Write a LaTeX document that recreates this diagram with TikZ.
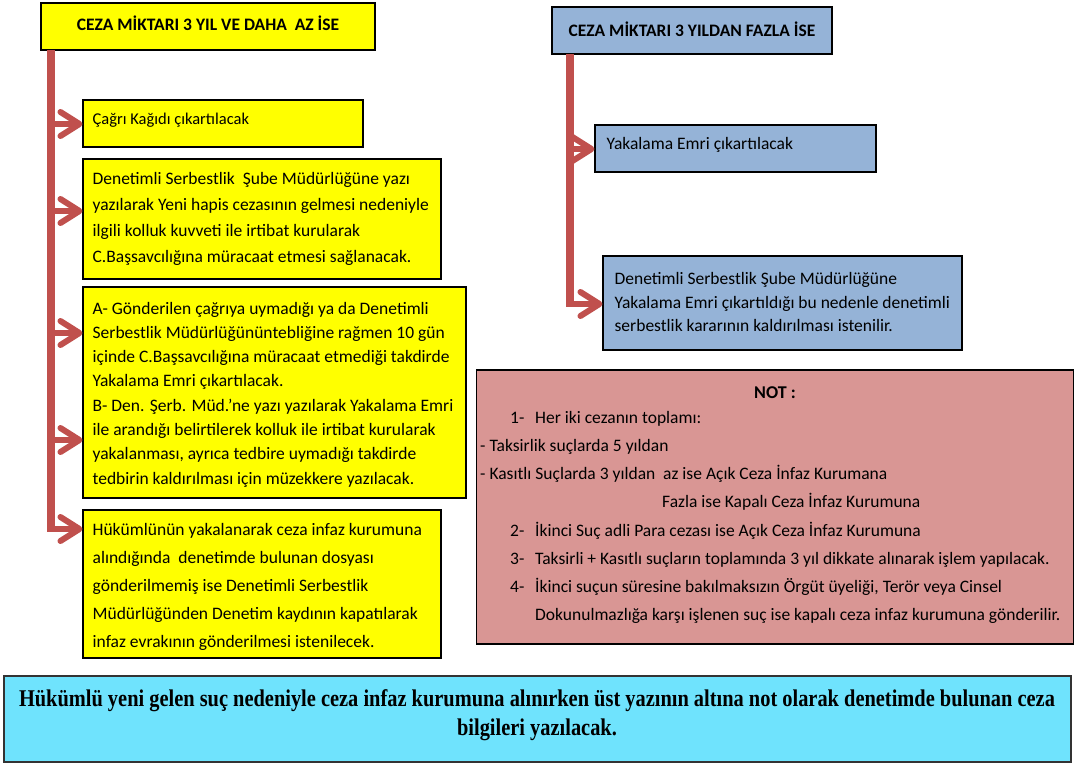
\documentclass[tikz,border=0pt]{standalone}
\usepackage{fontspec}
\setmainfont{Carlito}
\newfontfamily\tnr[FakeStretch=0.85]{Liberation Serif}
\usetikzlibrary{arrows.meta}
\definecolor{ybox}{HTML}{FFFF00}
\definecolor{bbox}{HTML}{95B3D7}
\definecolor{redline}{HTML}{C0504D}
\definecolor{notbox}{HTML}{D99694}
\definecolor{cbox}{HTML}{6FE3FD}
\begin{document}
\begin{tikzpicture}[x=1pt,y=-1pt,
  box/.style={draw=black, line width=1.1pt, inner sep=0pt, anchor=center},
  ttl/.style={box, font={\fontsize{17.5}{20}\selectfont\bfseries}},
  btxt/.style={anchor=west, align=left, inner sep=0pt},
  vbar/.style={draw=redline, line width=8pt},
  branch/.style={draw=redline, line width=6pt},
  chev/.style={draw=redline, line width=6pt, line join=round, line cap=round},
  nt/.style={anchor=base west, inner sep=0pt, font={\fontsize{17.5}{20}\selectfont}}]
\useasboundingbox (0,0) rectangle (1074,763);
% titles
\node[ttl, fill=ybox, minimum width=334pt, minimum height=47pt] (lt) at (208,26.5) {\raisebox{6pt}{CEZA MİKTARI 3 YIL VE DAHA\ \ AZ İSE}};
\node[ttl, fill=bbox, minimum width=280pt, minimum height=47pt] (rt) at (692,30.5) {\raisebox{2pt}{CEZA MİKTARI 3 YILDAN FAZLA İSE}};
% left boxes
\node[box, fill=ybox, minimum width=280pt, minimum height=47pt] (b1) at (223,123.5) {};
\node[btxt, font={\fontsize{16.5}{26}\selectfont}] (b1t) at ([xshift=10pt,yshift=3pt]b1.west) {Çağrı Kağıdı çıkartılacak};
\node[box, fill=ybox, minimum width=358pt, minimum height=120pt] (b2) at (262,219) {};
\node[btxt, font={\fontsize{17.5}{26}\selectfont}] (b2t) at ([xshift=10pt]b2.west)
 {Denetimli Serbestlik\ \ Şube Müdürlüğüne yazı\\ yazılarak Yeni hapis cezasının gelmesi nedeniyle\\ ilgili kolluk kuvveti ile irtibat kurularak\\ C.Başsavcılığına müracaat etmesi sağlanacak.};
\node[box, fill=ybox, minimum width=383pt, minimum height=211pt] (b3) at (274.5,392.5) {};
\node[btxt, font={\fontsize{17.5}{24.3}\selectfont}] (b3t) at ([xshift=10pt,yshift=-2pt]b3.west)
 {A- Gönderilen çağrıya uymadığı ya da Denetimli\\ Serbestlik Müdürlüğününtebliğine rağmen 10 gün\\ içinde C.Başsavcılığına müracaat etmediği takdirde\\ Yakalama Emri\ çıkartılacak.\\ B- Den. Şerb. Müd.'ne yazı yazılarak Yakalama Emri\\ ile arandığı belirtilerek kolluk ile irtibat kurularak\\ yakalanması, ayrıca tedbire uymadığı takdirde\\ tedbirin kaldırılması için müzekkere yazılacak.};
\node[box, fill=ybox, minimum width=358pt, minimum height=148pt] (b4) at (262,584) {};
\node[btxt, font={\fontsize{17.5}{28}\selectfont}] (b4t) at ([xshift=10pt,yshift=-3pt]b4.west)
 {Hükümlünün yakalanarak ceza infaz kurumuna\\ alındığında\ \ denetimde bulunan dosyası\\ gönderilmemiş ise Denetimli Serbestlik\\ Müdürlüğünden Denetim kaydının kapatılarak\\ infaz evrakının gönderilmesi istenilecek.};
% right boxes
\node[box, fill=bbox, minimum width=281pt, minimum height=47pt] (r1) at (735.5,148.5) {};
\node[btxt, font={\fontsize{17.5}{26}\selectfont}] (r1t) at ([xshift=12pt,yshift=4pt]r1.west) {Yakalama Emri çıkartılacak};
\node[box, fill=bbox, minimum width=359pt, minimum height=94pt] (r2) at (782.5,303) {};
\node[btxt, font={\fontsize{17.5}{23.5}\selectfont}] (r2t) at ([xshift=12pt,yshift=1pt]r2.west)
 {Denetimli Serbestlik Şube Müdürlüğüne\\ Yakalama Emri çıkartıldığı bu nedenle denetimli\\ serbestlik kararının kaldırılması istenilir.};
% left connectors
\coordinate (ltop) at (51,50);
\coordinate (lc) at (51,529);
\coordinate (a1) at (51,124);
\coordinate (a2) at (51,211);
\coordinate (a3) at (51,333);
\coordinate (a4) at (51,440);
\coordinate (e1) at ([xshift=-3pt]a1 -| b1.west);
\coordinate (e2) at ([xshift=-3pt]a2 -| b2.west);
\coordinate (e3) at ([xshift=-3pt]a3 -| b3.west);
\coordinate (e4) at ([xshift=-3pt]a4 -| b3.west);
\coordinate (e5) at ([xshift=-3pt]lc -| b4.west);
\draw[vbar] (ltop) -- ([yshift=-3pt]lc);
\foreach \s/\e in {a1/e1,a2/e2,a3/e3,a4/e4,lc/e5}{
  \draw[branch] (\s) -- ([xshift=-3pt]\e);
  \draw[chev] ([xshift=-19pt,yshift=12pt]\e) -- (\e) -- ([xshift=-19pt,yshift=-12pt]\e);
}
% right connectors
\coordinate (rtop) at (570,54);
\coordinate (rc) at (570,304);
\coordinate (ra1) at (570,149);
\coordinate (f1) at ([xshift=-3pt]ra1 -| r1.west);
\coordinate (f2) at ([xshift=-3pt]rc -| r2.west);
\draw[vbar] (rtop) -- ([yshift=-3pt]rc);
\foreach \s/\e in {ra1/f1,rc/f2}{
  \draw[branch] (\s) -- ([xshift=-3pt]\e);
  \draw[chev] ([xshift=-19pt,yshift=12pt]\e) -- (\e) -- ([xshift=-19pt,yshift=-12pt]\e);
}
% NOT box
\node[box, fill=notbox, minimum width=597pt, minimum height=274pt] (nb) at (775,507) {};
\node[anchor=base, inner sep=0pt, font={\fontsize{18}{20}\selectfont\bfseries}] (n0) at (775,398) {NOT :};
\node[nt] (n1a) at (510,423) {1-};
\node[nt] (n1) at (535,423) {Her iki cezanın toplamı:};
\node[nt] (n2) at (480,451) {- Taksirlik suçlarda 5 yıldan};
\node[nt] (n3) at (480,479) {- Kasıtlı Suçlarda 3 yıldan\ \ az ise Açık Ceza İnfaz Kurumana};
\node[nt] (n4) at (662,507) {Fazla ise Kapalı Ceza İnfaz Kurumuna};
\node[nt] (n5a) at (510,536) {2-};
\node[nt] (n5) at (535,536) {İkinci Suç adli Para cezası ise Açık Ceza İnfaz Kurumuna};
\node[nt] (n6a) at (510,564) {3-};
\node[nt] (n6) at (535,564) {Taksirli + Kasıtlı suçların toplamında 3 yıl dikkate alınarak işlem yapılacak.};
\node[nt] (n7a) at (510,592) {4-};
\node[nt] (n7) at (535,592) {İkinci suçun süresine bakılmaksızın Örgüt üyeliği, Terör veya Cinsel};
\node[nt] (n8) at (535,620) {Dokunulmazlığa karşı işlenen suç ise kapalı ceza infaz kurumuna gönderilir.};
% bottom box
\node[box, draw=black!80, line width=2pt, fill=cbox, minimum width=1067pt, minimum height=86pt] (bt) at (537,719) {};
\node[align=center, inner sep=0pt, font={\tnr\fontsize{24}{29}\selectfont\bfseries}] (btt) at ([yshift=4pt]bt.center)
 {Hükümlü yeni gelen suç nedeniyle ceza infaz kurumuna alınırken üst yazının altına not olarak denetimde bulunan ceza\\ bilgileri yazılacak.};
\end{tikzpicture}
\end{document}
